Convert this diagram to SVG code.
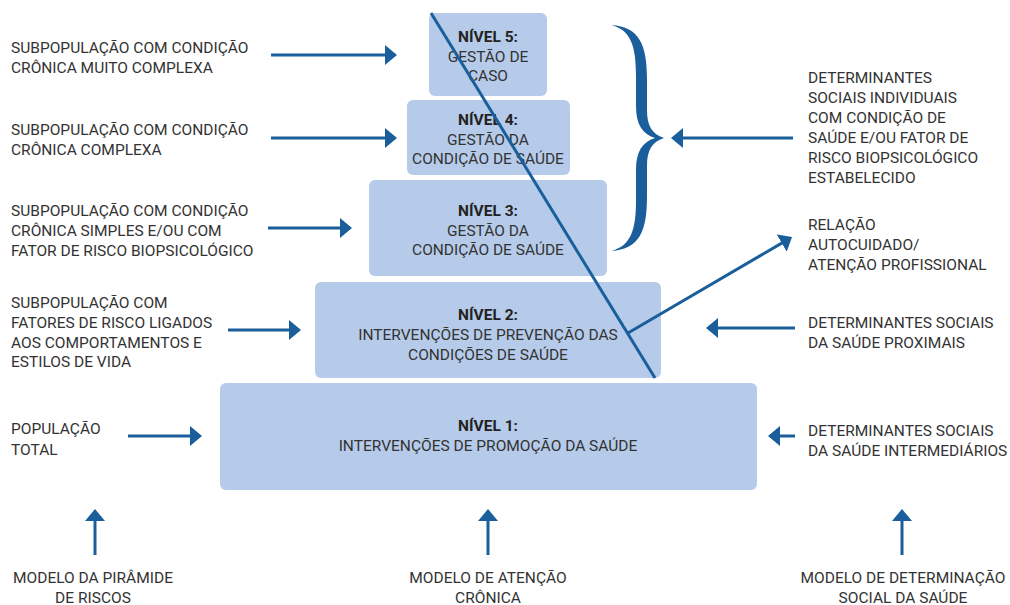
<svg xmlns="http://www.w3.org/2000/svg" width="1010" height="605" viewBox="0 0 1010 605">
<style>
.box{fill:#b5cbe9;}
.t{font-family:Roboto,"Liberation Sans",sans-serif;font-size:15.5px;fill:#333333;}
.c{text-anchor:middle;}
.b{font-weight:bold;fill:#222222;}
.ln{stroke:#1a5f9c;stroke-width:3;fill:none;}
.arr{stroke:#1a5f9c;stroke-width:3;fill:none;marker-end:url(#ah);}
</style>
<defs>
<marker id="ah" viewBox="0 0 12 20" refX="2" refY="10" markerWidth="12" markerHeight="20" markerUnits="userSpaceOnUse" orient="auto">
<path d="M0,0 L12,10 L0,20 Z" fill="#1a5f9c"/>
</marker>
</defs>
<rect width="1010" height="605" fill="#ffffff"/>

<g id="nivel5">
<rect class="box" x="429" y="13" width="118" height="83" rx="6"/>
<text class="t c b" x="488" y="42">NÍVEL 5:</text>
<text class="t c" x="488" y="62">GESTÃO DE</text>
<text class="t c" x="488" y="81">CASO</text>
</g>
<g id="nivel4">
<rect class="box" x="407" y="100" width="163" height="75" rx="6"/>
<text class="t c b" x="488" y="125">NÍVEL 4:</text>
<text class="t c" x="488" y="145">GESTÃO DA</text>
<text class="t c" x="488" y="164">CONDIÇÃO DE SAÚDE</text>
</g>
<g id="nivel3">
<rect class="box" x="369" y="180" width="238" height="96" rx="6"/>
<text class="t c b" x="488" y="216">NÍVEL 3:</text>
<text class="t c" x="488" y="236">GESTÃO DA</text>
<text class="t c" x="488" y="255">CONDIÇÃO DE SAÚDE</text>
</g>
<g id="nivel2">
<rect class="box" x="315" y="282" width="346" height="96" rx="6"/>
<text class="t c b" x="488" y="320">NÍVEL 2:</text>
<text class="t c" x="488" y="340">INTERVENÇÕES DE PREVENÇÃO DAS</text>
<text class="t c" x="488" y="360">CONDIÇÕES DE SAÚDE</text>
</g>
<g id="nivel1">
<rect class="box" x="220" y="383" width="537" height="107" rx="6"/>
<text class="t c b" x="488" y="431">NÍVEL 1:</text>
<text class="t c" x="488" y="451">INTERVENÇÕES DE PROMOÇÃO DA SAÚDE</text>
</g>

<g id="esquerda">
<text class="t" x="11" y="53">SUBPOPULAÇÃO COM CONDIÇÃO</text>
<text class="t" x="11" y="73">CRÔNICA MUITO COMPLEXA</text>
<text class="t" x="11" y="135">SUBPOPULAÇÃO COM CONDIÇÃO</text>
<text class="t" x="11" y="155">CRÔNICA COMPLEXA</text>
<text class="t" x="11" y="216">SUBPOPULAÇÃO COM CONDIÇÃO</text>
<text class="t" x="11" y="236">CRÔNICA SIMPLES E/OU COM</text>
<text class="t" x="11" y="256">FATOR DE RISCO BIOPSICOLÓGICO</text>
<text class="t" x="11" y="308">SUBPOPULAÇÃO COM</text>
<text class="t" x="11" y="328">FATORES DE RISCO LIGADOS</text>
<text class="t" x="11" y="348">AOS COMPORTAMENTOS E</text>
<text class="t" x="11" y="367">ESTILOS DE VIDA</text>
<text class="t" x="11" y="434">POPULAÇÃO</text>
<text class="t" x="11" y="455">TOTAL</text>
</g>

<g id="direita">
<text class="t" x="808" y="83">DETERMINANTES</text>
<text class="t" x="808" y="103">SOCIAIS INDIVIDUAIS</text>
<text class="t" x="808" y="123">COM CONDIÇÃO DE</text>
<text class="t" x="808" y="143">SAÚDE E/OU FATOR DE</text>
<text class="t" x="808" y="163">RISCO BIOPSICOLÓGICO</text>
<text class="t" x="808" y="183">ESTABELECIDO</text>
<text class="t" x="808" y="230">RELAÇÃO</text>
<text class="t" x="808" y="250">AUTOCUIDADO/</text>
<text class="t" x="808" y="270">ATENÇÃO PROFISSIONAL</text>
<text class="t" x="808" y="328">DETERMINANTES SOCIAIS</text>
<text class="t" x="808" y="348">DA SAÚDE PROXIMAIS</text>
<text class="t" x="808" y="436">DETERMINANTES SOCIAIS</text>
<text class="t" x="808" y="456">DA SAÚDE INTERMEDIÁRIOS</text>
</g>

<g id="modelos">
<text class="t c" x="93" y="583">MODELO DA PIRÂMIDE</text>
<text class="t c" x="93" y="603">DE RISCOS</text>
<text class="t c" x="488" y="583">MODELO DE ATENÇÃO</text>
<text class="t c" x="488" y="603">CRÔNICA</text>
<text class="t c" x="903" y="583">MODELO DE DETERMINAÇÃO</text>
<text class="t c" x="903" y="603">SOCIAL DA SAÚDE</text>
</g>

<g id="chave">
<path d="M611,25 C640,27 647,45 647,80 L647,110 C647,126 652,134 664,138 C652,142 647,150 647,166 L647,196 C647,231 640,249 611,251 C631,246 636,230 636,200 L636,170 C636,152 642,142 655,138 C642,134 636,124 636,106 L636,76 C636,46 631,30 611,25 Z" fill="#1a5f9c"/>
</g>

<g id="conectores">
<line class="ln" x1="431" y1="13" x2="655" y2="378"/>
<line class="arr" x1="628" y1="333" x2="783.4" y2="242.1"/>
<line class="arr" x1="271" y1="55" x2="387" y2="55"/>
<line class="arr" x1="271" y1="138" x2="387" y2="138"/>
<line class="arr" x1="268" y1="228" x2="342" y2="228"/>
<line class="arr" x1="228" y1="330" x2="291" y2="330"/>
<line class="arr" x1="128" y1="436" x2="192" y2="436"/>
<line class="arr" x1="793" y1="138" x2="681" y2="138"/>
<line class="arr" x1="795" y1="328" x2="716" y2="328"/>
<line class="arr" x1="795" y1="436" x2="778" y2="436"/>
<line class="arr" x1="95" y1="555" x2="95" y2="519"/>
<line class="arr" x1="488" y1="555" x2="488" y2="519"/>
<line class="arr" x1="902" y1="555" x2="902" y2="519"/>
</g>
</svg>
